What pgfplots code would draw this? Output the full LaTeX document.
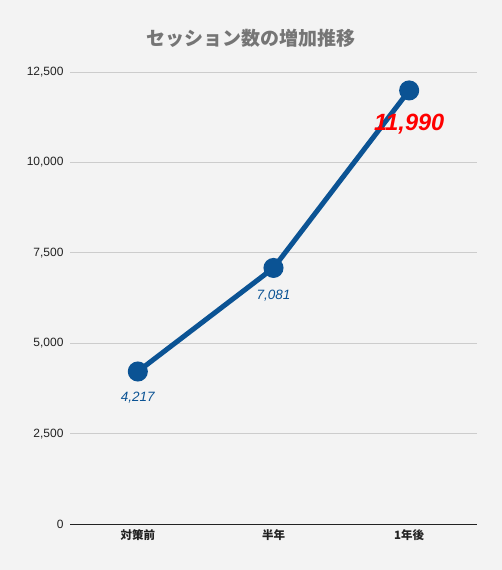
\documentclass[border=0pt]{standalone}
\usepackage{pgfplots}
\pgfplotsset{compat=1.18}
\usepackage{fontspec}
\setmainfont{Liberation Sans}
\newfontfamily\jp{Noto Sans CJK JP}
\definecolor{bg}{HTML}{F3F3F3}
\definecolor{line}{HTML}{0B5394}
\definecolor{titlec}{HTML}{757575}
\definecolor{tickc}{HTML}{222222}
\definecolor{gridc}{HTML}{CCCCCC}
\begin{document}
\begin{tikzpicture}[x=1pt,y=1pt]
\fill[bg] (0,0) rectangle (502,570);
\node[font=\jp\bfseries\fontsize{19}{21}\selectfont, text=titlec] at (251,532) {セッション数の増加推移};
\begin{axis}[
  at={(70pt,46pt)}, anchor=south west,
  scale only axis, width=407pt, height=452pt,
  xmin=-0.5, xmax=2.5, ymin=0, ymax=12500,
  axis line style={draw=none},
  xtick={0,1,2}, xticklabels={対策前,半年,1年後},
  xticklabel style={font=\jp\bfseries\fontsize{11.5}{13}\selectfont, text=tickc, yshift=-2pt},
  ytick={0,2500,5000,7500,10000,12500},
  scaled y ticks=false,
  yticklabel style={font=\fontsize{12}{14}\selectfont, text=tickc, xshift=-3pt,
    /pgf/number format/fixed, /pgf/number format/1000 sep={,}},
  /pgf/number format/assume math mode=true,
  ymajorgrids, grid style={gridc, line width=0.8pt},
  major tick length=0pt,
  clip=false,
]
\draw[tickc, line width=0.9pt] (axis cs:-0.5,0) -- (axis cs:2.5,0);
\addplot[line, line width=5pt, mark=*, mark size=7.5pt, mark options={fill=line, draw=none}]
  coordinates {(0,4217) (1,7081) (2,11990)};
\addplot[draw=none, forget plot, nodes near coords={4,217},
  every node near coord/.style={anchor=center, yshift=-26pt, font=\itshape\fontsize{13.5}{15}\selectfont, text=line}]
  coordinates {(0,4217)};
\addplot[draw=none, forget plot, nodes near coords={7,081},
  every node near coord/.style={anchor=center, yshift=-28pt, font=\itshape\fontsize{13.5}{15}\selectfont, text=line}]
  coordinates {(1,7081)};
\addplot[draw=none, forget plot, nodes near coords={11,990},
  every node near coord/.style={anchor=center, yshift=-34pt, font=\bfseries\itshape\fontsize{23.5}{26}\selectfont, text=red}]
  coordinates {(2,11990)};
\end{axis}
\end{tikzpicture}
\end{document}
